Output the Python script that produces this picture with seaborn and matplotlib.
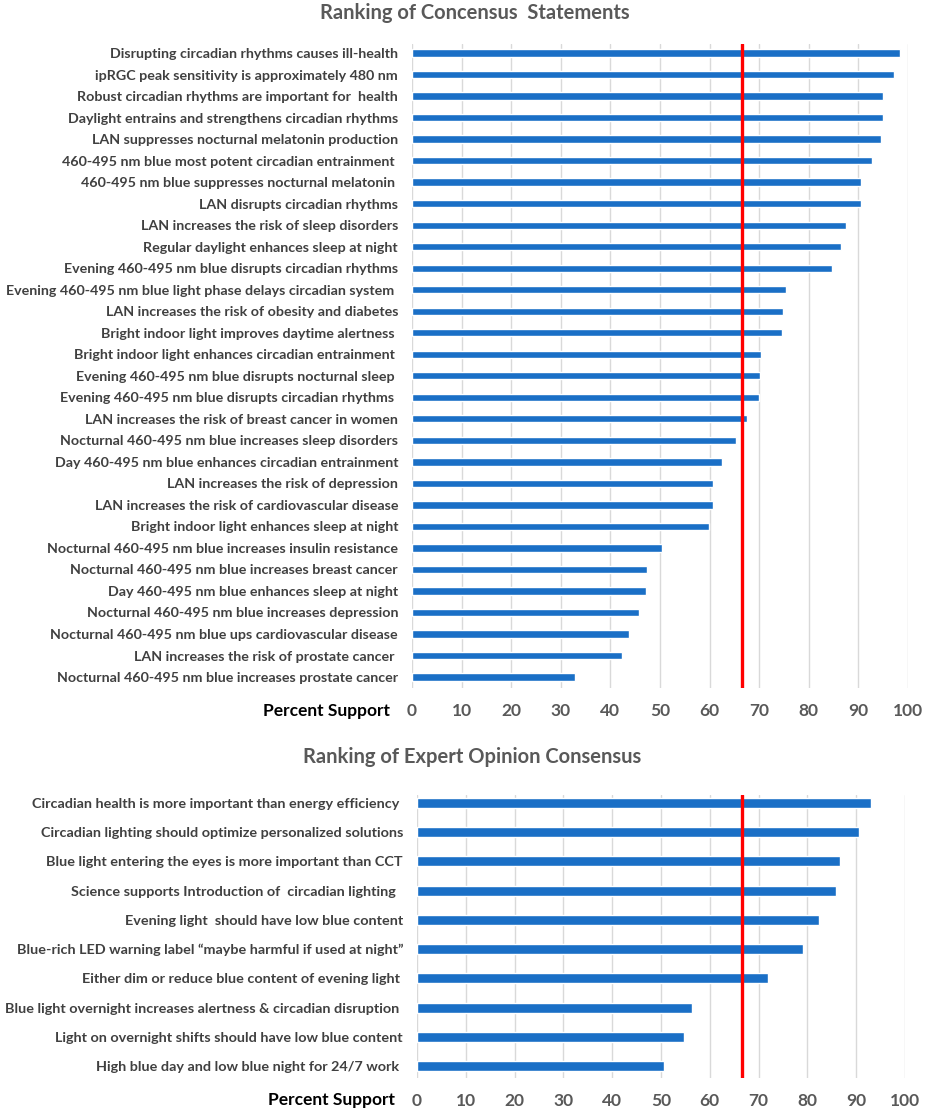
import matplotlib
matplotlib.use("Agg")
import matplotlib.pyplot as plt
import seaborn as sns
import pandas as pd

# top panel: consensus statements
statements = [
    "Disrupting circadian rhythms causes ill-health",
    "ipRGC peak sensitivity is approximately 480 nm",
    "Robust circadian rhythms are important for  health",
    "Daylight entrains and strengthens circadian rhythms",
    "LAN suppresses nocturnal melatonin production",
    "460-495 nm blue most potent circadian entrainment ",
    "460-495 nm blue suppresses nocturnal melatonin ",
    "LAN disrupts circadian rhythms",
    "LAN increases the risk of sleep disorders",
    "Regular daylight enhances sleep at night",
    "Evening 460-495 nm blue disrupts circadian rhythms",
    "Evening 460-495 nm blue light phase delays circadian system ",
    "LAN increases the risk of obesity and diabetes",
    "Bright indoor light improves daytime alertness ",
    "Bright indoor light enhances circadian entrainment ",
    "Evening 460-495 nm blue disrupts nocturnal sleep ",
    "Evening 460-495 nm blue disrupts circadian rhythms ",
    "LAN increases the risk of breast cancer in women",
    "Nocturnal 460-495 nm blue increases sleep disorders",
    "Day 460-495 nm blue enhances circadian entrainment",
    "LAN increases the risk of depression",
    "LAN increases the risk of cardiovascular disease",
    "Bright indoor light enhances sleep at night",
    "Nocturnal 460-495 nm blue increases insulin resistance",
    "Nocturnal 460-495 nm blue increases breast cancer",
    "Day 460-495 nm blue enhances sleep at night",
    "Nocturnal 460-495 nm blue increases depression",
    "Nocturnal 460-495 nm blue ups cardiovascular disease",
    "LAN increases the risk of prostate cancer ",
    "Nocturnal 460-495 nm blue increases prostate cancer",
]
statement_support = [98.4, 97.2, 95.0, 95.0, 94.5, 92.7, 90.6, 90.6, 87.4, 86.4,
                     84.7, 75.4, 74.7, 74.5, 70.4, 70.2, 70.0, 67.5, 65.3, 62.6,
                     60.7, 60.6, 59.9, 50.5, 47.4, 47.1, 45.7, 43.8, 42.3, 32.9]

# bottom panel: expert opinion
opinions = [
    "Circadian health is more important than energy efficiency ",
    "Circadian lighting should optimize personalized solutions",
    "Blue light entering the eyes is more important than CCT",
    "Science supports Introduction of  circadian lighting  ",
    "Evening light  should have low blue content",
    "Blue-rich LED warning label \u201cmaybe harmful if used at night\u201d",
    "Either dim or reduce blue content of evening light ",
    "Blue light overnight increases alertness & circadian disruption ",
    "Light on overnight shifts should have low blue content",
    "High blue day and low blue night for 24/7 work ",
]
opinion_support = [93.0, 90.5, 86.6, 85.8, 82.4, 79.0, 71.9, 56.3, 54.7, 50.6]

threshold = 66.5
xticks = list(range(0, 101, 10))

sns.set_style("white")
plt.rcParams['font.family'] = ['Lato', 'DejaVu Sans']

W, H = 941, 1111
fig = plt.figure(figsize=(W / 100, H / 100), dpi=100)

BAR = "#1a6fc6"
LABEL = "#404040"
TICK = "#595959"


def px_axes(left, top, right, bottom):
    return fig.add_axes([left / W, 1 - bottom / H, (right - left) / W, (bottom - top) / H])


def draw_panel(ax, labels, values, bar_h, ylim, label_size):
    df = pd.DataFrame({"label": labels, "support": values})
    sns.barplot(data=df, x="support", y="label", orient="h", color=BAR,
                width=bar_h, saturation=1, ax=ax)
    ax.set_xlim(0, 100)
    ax.set_ylim(*ylim)
    ax.set_xticks(xticks)
    ax.xaxis.grid(True, color="#d9d9d9", lw=1)
    ax.set_axisbelow(True)
    ax.axvline(threshold, color="#ff0000", lw=2.4, zorder=5)
    for s in ax.spines.values():
        s.set_visible(False)
    ax.tick_params(axis="y", length=0, pad=10, labelsize=label_size, labelcolor=LABEL)
    ax.tick_params(axis="x", length=0, pad=10.5, labelsize=12.5, labelcolor=TICK)
    for t in ax.get_yticklabels() + ax.get_xticklabels():
        t.set_fontweight("bold")
    ax.set_xlabel("")
    ax.set_ylabel("")


ax1 = px_axes(412, 44, 908, 688)
draw_panel(ax1, statements, statement_support, 0.34, (29.51, -0.42), 10.3)
fig.text(475 / W, 1 - 13 / H, "Ranking of Concensus  Statements", ha="center", va="center",
         fontsize=14.5, fontweight="bold", color=TICK)
fig.text(390 / W, 1 - 711 / H, "Percent Support", ha="right", va="center",
         fontsize=12.5, fontweight="bold", color="black")

ax2 = px_axes(417, 795, 905, 1078)
draw_panel(ax2, opinions, opinion_support, 0.34, (9.41, -0.27), 10.4)
fig.text(472 / W, 1 - 757 / H, "Ranking of Expert Opinion Consensus", ha="center", va="center",
         fontsize=14.5, fontweight="bold", color=TICK)
fig.text(395 / W, 1 - 1100 / H, "Percent Support", ha="right", va="center",
         fontsize=12.5, fontweight="bold", color="black")

fig.savefig("out.png", dpi=100, facecolor="white")
